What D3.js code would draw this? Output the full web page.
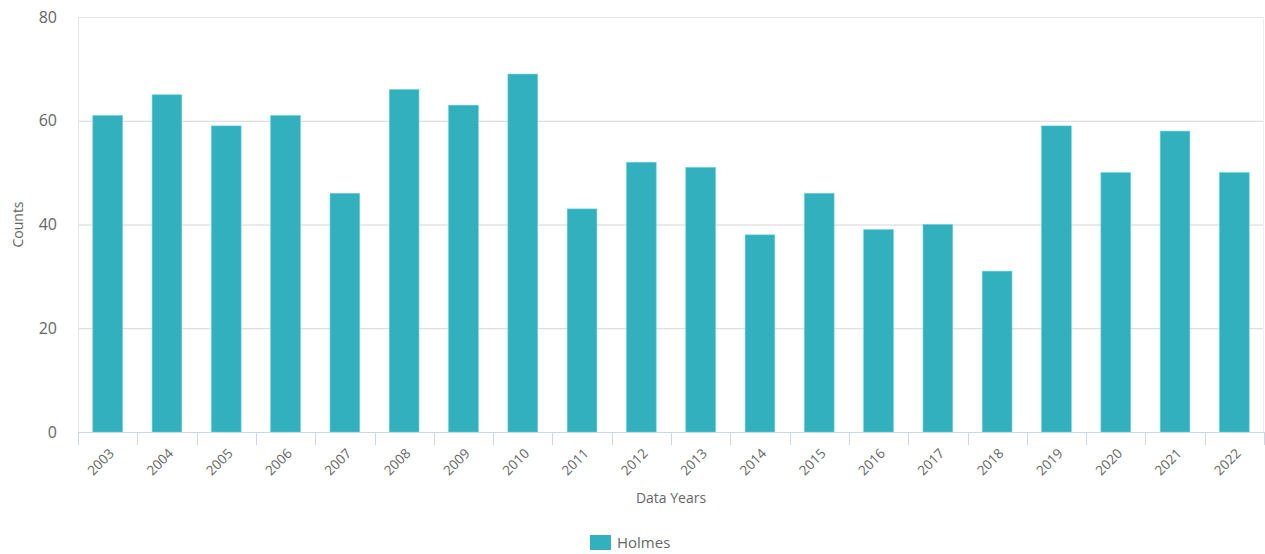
<!DOCTYPE html>
<html>
<head>
<meta charset="utf-8">
<script src="https://cdn.jsdelivr.net/npm/d3@7"></script>
<style>
	body { margin: 0; background: #fff; font-family: "Segoe UI", "Open Sans", "Noto Sans", sans-serif; }
	.chart text { fill: #666; }
</style>
</head>
<body>
<div class="chart"></div>
<script>
const years = ["2003","2004","2005","2006","2007","2008","2009","2010","2011","2012",
	"2013","2014","2015","2016","2017","2018","2019","2020","2021","2022"];
const counts = [61, 65, 59, 61, 46, 66, 63, 69, 43, 52, 51, 38, 46, 39, 40, 31, 59, 50, 58, 50];
const yTicks = [0, 20, 40, 60, 80];
const seriesName = "Holmes";
const barColor = "#33b0bd";

let width = 1265, height = 554;
let margin = {top: 17, right: 1, bottom: 122, left: 78};

let svg = d3.select(".chart")
	.append("svg")
	.attr("width", width)
	.attr("height", height);

let x = d3.scaleBand()
	.domain(years)
	.range([margin.left, width - margin.right])
	.paddingInner(0.5)
	.paddingOuter(0.25);

let y = d3.scaleLinear()
	.domain([0, 80])
	.range([height - margin.bottom, margin.top]);

// gridlines
svg.append("g")
	.selectAll("line")
	.data(yTicks)
	.enter().append("line")
	.attr("x1", margin.left)
	.attr("x2", width - margin.right)
	.attr("y1", d => y(d) + 0.5)
	.attr("y2", d => y(d) + 0.5)
	.attr("stroke", d => d === 80 ? "#e6e6e6" : "#d6d6d6");

// side borders
svg.append("line")
	.attr("x1", margin.left + 0.5).attr("x2", margin.left + 0.5)
	.attr("y1", y(80)).attr("y2", y(0))
	.attr("stroke", "#e6e6e6");
svg.append("line")
	.attr("x1", width - margin.right - 0.5).attr("x2", width - margin.right - 0.5)
	.attr("y1", y(80)).attr("y2", y(0))
	.attr("stroke", "#eeeeee");

// bars
svg.append("g")
	.selectAll("rect")
	.data(counts)
	.enter().append("rect")
	.attr("x", (d, i) => x(years[i]))
	.attr("y", d => y(d))
	.attr("width", x.bandwidth())
	.attr("height", d => y(0) - y(d))
	.attr("fill", barColor)
	.attr("stroke", "#5fd0da")
	.attr("stroke-width", 0.6);

// x axis
let xAxis = svg.append("g")
	.attr("transform", `translate(0,${y(0)})`)
	.call(d3.axisBottom(x).tickSize(0).tickPadding(0));
xAxis.select(".domain").attr("stroke", "#ccd6eb");
xAxis.selectAll(".tick line").remove();
xAxis.selectAll(".tick text")
	.attr("font-size", 13.5)
	.attr("font-family", "\"Segoe UI\", \"Open Sans\", sans-serif")
	.attr("text-anchor", "end")
	.attr("transform", "translate(4,19) rotate(-45)")
	.attr("dy", "0.35em");

// x axis tick marks between bands
let bounds = years.map(d => x(d) - x.step() * x.paddingInner() / 2).concat([width - margin.right]);
bounds[0] = margin.left;
svg.append("g")
	.selectAll("line")
	.data(bounds)
	.enter().append("line")
	.attr("x1", d => Math.round(d) + 0.5)
	.attr("x2", d => Math.round(d) + 0.5)
	.attr("y1", y(0))
	.attr("y2", y(0) + 13)
	.attr("stroke", "#ccd6eb");

// y axis labels
let yAxis = svg.append("g")
	.attr("transform", `translate(${margin.left},0)`)
	.call(d3.axisLeft(y).tickValues(yTicks).tickSize(0).tickPadding(21));
yAxis.select(".domain").remove();
yAxis.selectAll(".tick text")
	.attr("font-size", 16)
	.attr("font-family", "\"Segoe UI\", \"Open Sans\", sans-serif");

// axis titles
svg.append("text")
	.attr("x", 671)
	.attr("y", 503)
	.attr("text-anchor", "middle")
	.attr("font-size", 14)
	.text("Data Years");

svg.append("text")
	.attr("transform", `translate(23,${(y(0) + y(80)) / 2}) rotate(-90)`)
	.attr("text-anchor", "middle")
	.attr("font-size", 14)
	.text("Counts");

// legend
let legend = svg.append("g").attr("transform", "translate(590,535)");
legend.append("rect")
	.attr("width", 21)
	.attr("height", 15)
	.attr("fill", barColor);
legend.append("text")
	.attr("x", 27)
	.attr("y", 13)
	.attr("font-size", 15)
	.attr("fill", "#444")
	.text(seriesName);
</script>
</body>
</html>
